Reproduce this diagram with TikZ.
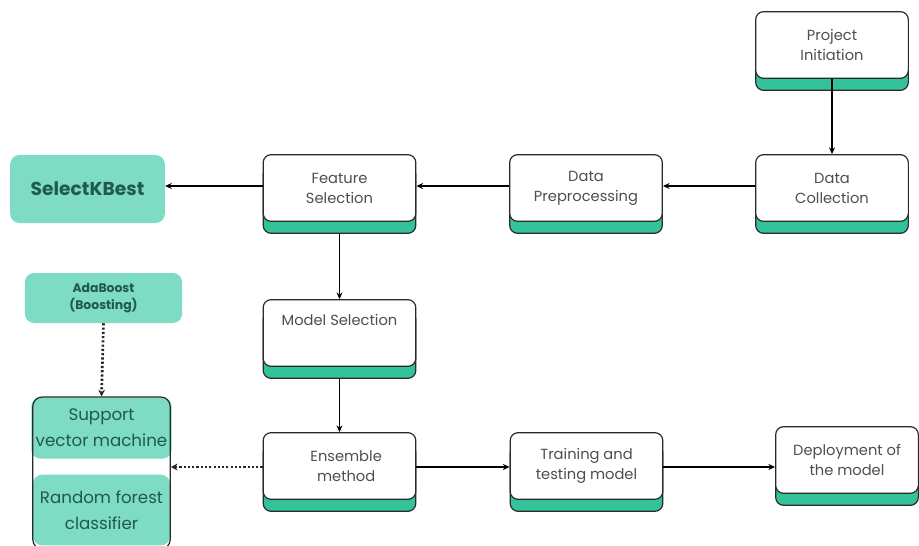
\documentclass[tikz,border=0pt]{standalone}
\usepackage{fontspec}
\setmainfont{Poppins}
\usetikzlibrary{arrows.meta,shadows}
\definecolor{stripgreen}{HTML}{34C29B}
\definecolor{lightteal}{HTML}{7EDBC4}
\definecolor{darkteal}{HTML}{1F5A4C}
\definecolor{boxtext}{HTML}{4E4E4E}
\definecolor{edge}{HTML}{2A2A2A}
\tikzset{
  stepbox/.style={draw=edge, fill=white, line width=0.9pt, rounded corners=6pt,
    minimum width=114.5pt, minimum height=50pt, align=center, text=boxtext,
    font=\fontsize{11}{15}\selectfont,
    general shadow={fill=stripgreen, draw=edge, line width=0.9pt, shadow yshift=-9pt}},
  tealbox/.style={fill=lightteal, rounded corners=7pt, align=center, text=darkteal},
  conn/.style={draw=black, line width=0.8pt, -{Stealth[length=5pt,width=4.5pt]}},
  dotconn/.style={draw=black!85, line width=2pt, dash pattern=on 1.6pt off 1.6pt, -{Stealth[length=5pt,width=5pt]}}
}
\begin{document}
\begin{tikzpicture}[x=0.75pt,y=-0.75pt]
\useasboundingbox[fill=white] (0,0) rectangle (919,545);
% main steps
\node[stepbox] (pi) at (832,45) {Project\\Initiation};
\node[stepbox] (dc) at (832,188) {Data\\Collection};
\node[stepbox] (dp) at (586,188) {Data\\Preprocessing};
\node[stepbox] (fs) at (339.5,188) {Feature\\Selection};
\node[stepbox, text depth=20pt] (ms) at (339.5,333) {Model Selection};
\node[stepbox] (em) at (339.5,466) {\hspace*{10pt}Ensemble\\\hspace*{10pt}method};
\node[stepbox] (tt) at (586.5,466) {Training and\\testing model};
\node[stepbox, minimum width=107pt] (dm) at (847,460) {Deployment of\\the model};
% teal side boxes
\node[tealbox, minimum width=116pt, minimum height=51pt,
      font=\fontsize{14}{16}\selectfont\bfseries] (skb) at (87.5,189) {SelectKBest};
\node[tealbox, minimum width=118pt, minimum height=37.5pt,
      font=\fontsize{9.3}{13}\selectfont\bfseries] (ada) at (103.5,298) {AdaBoost\\(Boosting)};
\node[tealbox, minimum width=103pt, minimum height=46pt,
      font=\fontsize{12.5}{19.5}\selectfont] (svm) at (101.5,428) {Support\\vector machine};
\node[tealbox, minimum width=103pt, minimum height=53pt,
      font=\fontsize{12.5}{19.5}\selectfont] (rf) at (101.5,510) {Random forest\\classifier};
\node[draw=edge, line width=0.9pt, rounded corners=7pt, minimum width=103pt,
      minimum height=114pt] (grp) at (101.5,473) {};
% connectors
\coordinate (r1) at (0,186);
\coordinate (r3) at (0,467);
\draw[conn] (pi.south) -- (dc.north);
\draw[conn] (dc.west |- r1) -- (dp.east |- r1);
\draw[conn] (dp.west |- r1) -- (fs.east |- r1);
\draw[conn] (fs.west |- r1) -- (skb.east |- r1);
\draw[conn] ([yshift=-9pt]fs.south) -- (ms.north);
\draw[conn] ([yshift=-9pt]ms.south) -- (em.north);
\draw[conn] (em.east |- r3) -- (tt.west |- r3);
\draw[conn] (tt.east |- r3) -- (dm.west |- r3);
\draw[dotconn] (ada.south) -- (grp.north);
\draw[dotconn] (em.west |- r3) -- (grp.east |- r3);
\end{tikzpicture}
\end{document}
